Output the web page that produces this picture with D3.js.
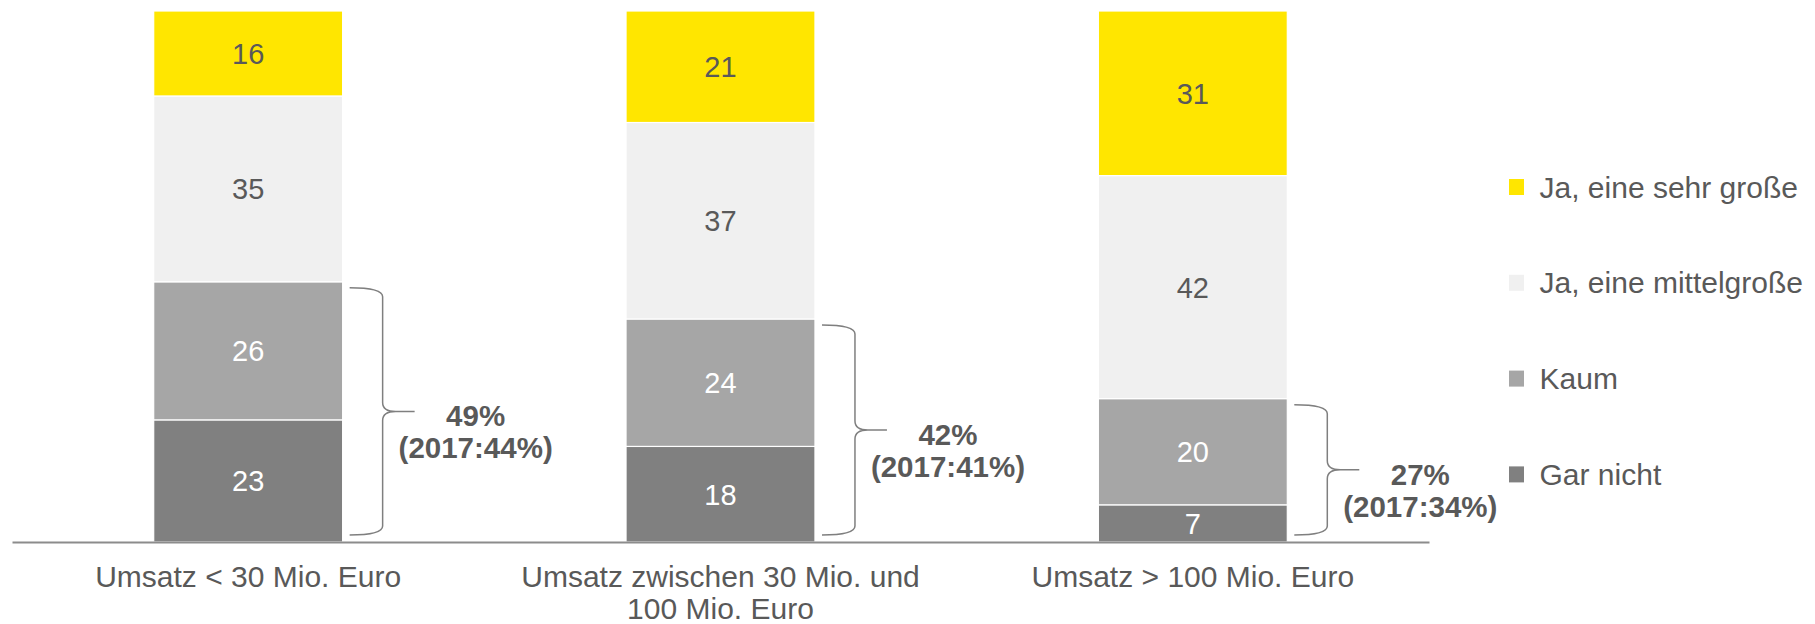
<!DOCTYPE html>
<html><head><meta charset="utf-8">
<script src="https://cdn.jsdelivr.net/npm/d3@7"></script>
<style>
body{margin:0;background:#fff}
svg{display:block}
text{font-family:"Liberation Sans",Arial,Helvetica,sans-serif}
</style>
</head><body>
<svg id="chart" width="1815" height="624"></svg>
<script>
// ---- data ----
const categories = ["Umsatz < 30 Mio. Euro", "Umsatz zwischen 30 Mio. und 100 Mio. Euro", "Umsatz > 100 Mio. Euro"];
const seriesNames = ["Gar nicht", "Kaum", "Ja, eine mittelgroße", "Ja, eine sehr große"];
const garNicht = [23, 18, 7];
const kaum = [26, 24, 20];
const mittelgross = [35, 37, 42];
const sehrGross = [16, 21, 31];
const prev2017 = [44, 41, 34];
const yTicks = [0, 100];

// ---- styles ----
const colors = ["#808080", "#a6a6a6", "#f0f0f0", "#ffe600"];
const labelColors = ["#ffffff", "#ffffff", "#595959", "#595959"];
const textColor = "#595959";

const seriesValues = [garNicht, kaum, mittelgross, sehrGross];
const table = categories.map((c, i) => {
  const row = {cat: c};
  seriesNames.forEach((s, k) => row[s] = seriesValues[k][i]);
  return row;
});

const svg = d3.select("#chart");
const x = d3.scaleBand().domain(categories).range([12, 1429]).paddingInner(0.6).paddingOuter(0.3);
const y = d3.scaleLinear().domain(d3.extent(yTicks)).range([542, 11]);

const stacked = d3.stack().keys(seriesNames)(table);

const layers = svg.append("g").selectAll("g").data(stacked).join("g")
  .attr("fill", (d, k) => colors[k]);

layers.selectAll("rect").data(d => d).join("rect")
  .attr("x", d => x(d.data.cat))
  .attr("width", x.bandwidth())
  .attr("y", d => y(d[1]))
  .attr("height", d => y(d[0]) - y(d[1]))
  .attr("stroke", "#ffffff")
  .attr("stroke-width", 1.2);

layers.each(function(layer, k) {
  d3.select(this).selectAll("text").data(layer).join("text")
    .attr("x", d => x(d.data.cat) + x.bandwidth() / 2)
    .attr("y", d => (y(d[0]) + y(d[1])) / 2)
    .attr("dy", "0.36em")
    .attr("text-anchor", "middle")
    .attr("font-size", 29)
    .attr("fill", labelColors[k])
    .text(d => d[1] - d[0]);
});

// ---- x axis ----
const axis = svg.append("g").attr("transform", "translate(0,542)")
  .call(d3.axisBottom(x).tickSizeInner(0).tickSizeOuter(0));
axis.select(".domain").attr("stroke", "#8c8c8c").attr("stroke-width", 2);
axis.selectAll(".tick text").each(function(d) {
  const t = d3.select(this);
  t.text(null).attr("y", 0).attr("dy", null)
    .attr("font-size", 30).attr("fill", textColor)
    .attr("font-family", "'Liberation Sans', Arial, sans-serif");
  const words = d.split(" ");
  let line = [];
  let lineNo = 0;
  let tspan = t.append("tspan").attr("x", 0).attr("y", 45);
  words.forEach(w => {
    line.push(w);
    tspan.text(line.join(" "));
    if (tspan.node().getComputedTextLength() > 430 && line.length > 1) {
      line.pop();
      tspan.text(line.join(" "));
      line = [w];
      lineNo++;
      tspan = t.append("tspan").attr("x", 0).attr("y", 45 + lineNo * 32).text(w);
    }
  });
});

// ---- braces & annotations ----
const ann = svg.append("g");
categories.forEach((c, i) => {
  const total = garNicht[i] + kaum[i];
  const xr = x(c) + x.bandwidth();
  const yT = y(total) + 6, yB = y(0) - 7, ym = (yT + yB) / 2;
  const x0 = xr + 7, xv = xr + 40, xt = xr + 72, r = 9;
  const p = `M${x0},${yT} Q${xv},${yT} ${xv},${yT + r} L${xv},${ym - r} Q${xv},${ym} ${xv + r + 4},${ym} L${xt},${ym} M${xv + r + 4},${ym} Q${xv},${ym} ${xv},${ym + r} L${xv},${yB - r} Q${xv},${yB} ${x0},${yB}`;
  ann.append("path").attr("d", p).attr("fill", "none").attr("stroke", "#7f7f7f").attr("stroke-width", 1.5);
  const tx = xr + 133;
  ann.append("text").attr("x", tx).attr("y", ym + 15).attr("text-anchor", "middle")
    .attr("font-size", 29.5).attr("font-weight", "bold").attr("fill", textColor).text(total + "%");
  ann.append("text").attr("x", tx).attr("y", ym + 47).attr("text-anchor", "middle")
    .attr("font-size", 29.5).attr("font-weight", "bold").attr("fill", textColor).text("(2017:" + prev2017[i] + "%)");
});

// ---- legend ----
const legendOrder = seriesNames.map((s, k) => k).reverse();
const legend = svg.append("g").attr("transform", "translate(1509,187)");
legendOrder.forEach((k, j) => {
  const g = legend.append("g").attr("transform", `translate(0,${j * 95.8})`);
  g.append("rect").attr("x", 0).attr("y", -8).attr("width", 15).attr("height", 16).attr("fill", colors[k]);
  g.append("text").attr("x", 30.5).attr("y", 10.5).attr("font-size", 30).attr("fill", textColor).text(seriesNames[k]);
});
</script>
</body></html>
